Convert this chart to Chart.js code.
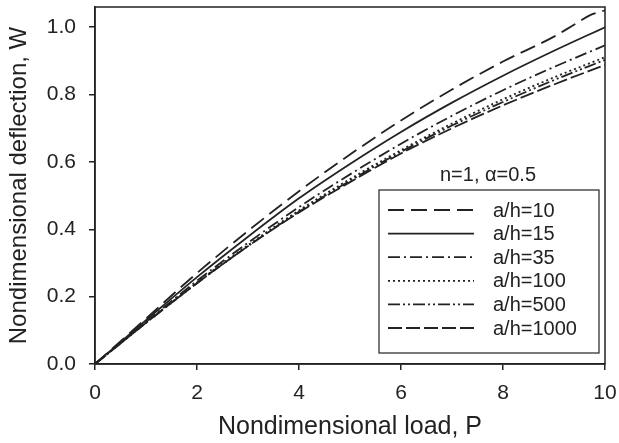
<!DOCTYPE html>
<html>
<head>
<meta charset="utf-8">
<script src="https://cdn.jsdelivr.net/npm/chart.js@4.4.1/dist/chart.umd.min.js"></script>
<style>
  html, body { margin: 0; padding: 0; background: #fff; }
  canvas { display: block; }
</style>
</head>
<body>
<canvas id="chart" width="619" height="443"></canvas>
<script>
// load values P
const loadP = [0, 1, 2, 3, 4, 5, 6, 7, 8, 9, 10];
const loadP10 = [0, 1, 2, 3, 4, 5, 6, 7, 8, 9, 9.4, 9.7, 10];

// deflection W
const w10 = [0, 0.135, 0.27, 0.395, 0.513, 0.622, 0.723, 0.815, 0.898, 0.972, 1.008, 1.035, 1.05];
const w15 = [0, 0.13, 0.258, 0.378, 0.492, 0.594, 0.689, 0.776, 0.856, 0.93, 1.0];
const w35 = [0, 0.125, 0.247, 0.36, 0.466, 0.563, 0.654, 0.737, 0.813, 0.882, 0.946];
const w100 = [0, 0.123, 0.242, 0.353, 0.456, 0.549, 0.635, 0.714, 0.786, 0.851, 0.911];
const w500 = [0, 0.122, 0.24, 0.35, 0.452, 0.544, 0.63, 0.708, 0.778, 0.843, 0.903];
const w1000 = [0, 0.122, 0.24, 0.35, 0.45, 0.54, 0.625, 0.70, 0.768, 0.83, 0.888];

const seriesLabels = ["a/h=10", "a/h=15", "a/h=35", "a/h=100", "a/h=500", "a/h=1000"];
const xTicks = [0, 2, 4, 6, 8, 10];
const yTicks = [0, 0.2, 0.4, 0.6, 0.8, 1.0];
const noteText = "n=1, \u03b1=0.5";

const FONT = "'Liberation Sans', Arial, Helvetica, sans-serif";
const INK = "#222";

const pts = (xs, ys) => ys.map((y, i) => ({ x: xs[i], y }));

const dashes = [[16, 7], [], [12, 4, 2, 4], [2, 3], [12, 3, 2, 3, 2, 3], [14, 4]];
const seriesData = [
  pts(loadP10, w10), pts(loadP, w15), pts(loadP, w35),
  pts(loadP, w100), pts(loadP, w500), pts(loadP, w1000)
];

const datasets = seriesData.map((d, i) => ({
  label: seriesLabels[i],
  data: d,
  borderColor: INK,
  borderWidth: 1.8,
  borderDash: dashes[i],
  pointRadius: 0,
  fill: false,
  cubicInterpolationMode: "monotone",
}));

// frame round the plot and the boxed legend
const framePlugin = {
  id: "frame",
  afterDraw(chart) {
    const { ctx, chartArea: a } = chart;
    ctx.save();
    ctx.strokeStyle = INK;
    ctx.lineWidth = 1.5;
    ctx.strokeRect(a.left, a.top, a.right - a.left, a.bottom - a.top);

    // legend
    const bx = 379, by = 190, bw = 220, bh = 163;
    ctx.lineWidth = 1.2;
    ctx.strokeRect(bx, by, bw, bh);
    ctx.fillStyle = INK;
    ctx.font = "20px " + FONT;
    ctx.textBaseline = "middle";
    ctx.textAlign = "center";
    ctx.fillText(noteText, 488, 175);
    ctx.textAlign = "left";
    chart.data.datasets.forEach((ds, i) => {
      const y = 210 + i * 23.6;
      ctx.beginPath();
      ctx.setLineDash(ds.borderDash);
      ctx.lineWidth = 1.8;
      ctx.moveTo(388, y);
      ctx.lineTo(474, y);
      ctx.stroke();
      ctx.setLineDash([]);
      ctx.fillText(ds.label, 493, y + 1);
    });
    ctx.restore();
  }
};

new Chart(document.getElementById("chart"), {
  type: "line",
  data: { datasets },
  plugins: [framePlugin],
  options: {
    responsive: false,
    animation: false,
    layout: { padding: { left: 0, right: 14, top: 7, bottom: 0 } },
    plugins: { legend: { display: false }, tooltip: { enabled: false } },
    scales: {
      x: {
        type: "linear",
        min: 0, max: 10,
        afterBuildTicks: (s) => { s.ticks = xTicks.map(v => ({ value: v })); },
        afterFit: (s) => { s.height = 79; s.paddingLeft = 0; s.paddingRight = 0; },
        border: { display: true, color: INK, width: 1.5 },
        grid: { display: true, drawOnChartArea: false, drawTicks: true, tickLength: 6, color: INK, lineWidth: 1.5 },
        ticks: { color: INK, font: { family: FONT, size: 21 }, padding: 11, maxRotation: 0 },
        title: { display: true, text: "Nondimensional load, P", color: INK, font: { family: FONT, size: 25 }, padding: { top: 0, bottom: 1 } }
      },
      y: {
        type: "linear",
        min: 0, max: 1.06,
        afterBuildTicks: (s) => { s.ticks = yTicks.map(v => ({ value: v })); },
        afterFit: (s) => { s.width = 95; s.paddingTop = 0; s.paddingBottom = 0; },
        border: { display: true, color: INK, width: 1.5 },
        grid: { display: true, drawOnChartArea: false, drawTicks: true, tickLength: 6, color: INK, lineWidth: 1.5 },
        ticks: { color: INK, font: { family: FONT, size: 21 }, padding: 13, callback: (v) => v.toFixed(1) },
        title: { display: true, text: "Nondimensional deflection, W", color: INK, font: { family: FONT, size: 24 }, padding: { top: 5, bottom: 0 } }
      }
    }
  }
});
</script>
</body>
</html>
